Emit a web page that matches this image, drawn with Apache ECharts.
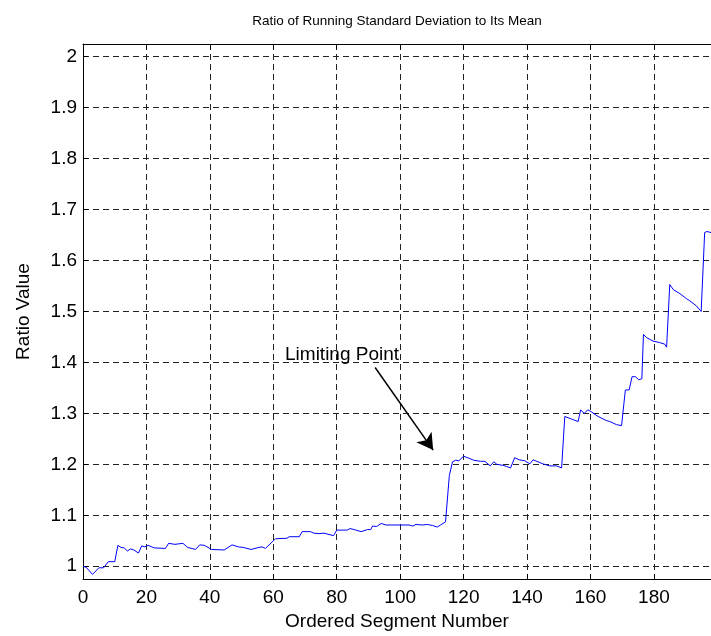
<!DOCTYPE html>
<html>
<head>
<meta charset="utf-8">
<script src="https://cdn.jsdelivr.net/npm/echarts@6/dist/echarts.min.js"></script>
<style>
html,body{margin:0;padding:0;background:#fff;}
#chart{width:711px;height:636px;}
</style>
</head>
<body>
<div id="chart"></div>
<script>
const titleText = 'Ratio of Running Standard Deviation to Its Mean';
const xName = 'Ordered Segment Number';
const yName = 'Ratio Value';
const annotationText = 'Limiting Point';
const xTicks = [0, 20, 40, 60, 80, 100, 120, 140, 160, 180];
const yTicks = [1, 1.1, 1.2, 1.3, 1.4, 1.5, 1.6, 1.7, 1.8, 1.9, 2];
const segX = [0,1,3,5,6.5,7,8,10,11,12,13,14,15,16,17.5,18.5,19.5,20.5,22.5,26,27,29,31.5,33,35.5,36.8,38.3,40.5,44.5,47,49,50.5,53,55.5,56.5,57.5,60.7,64.3,65,68.2,69.1,71.7,72.8,74.4,75,76,76.5,79,80,83.3,84.2,85.5,87.7,89.7,90.7,91.3,92.6,94,95.5,102.8,103.9,105,107,108.6,110.2,111.7,112.7,114.3,115.5,116.5,117.5,118.5,120,121.7,123.2,123.8,125.3,126.7,128.4,129.5,130.5,132.5,133.5,134.8,136.1,137.5,139.3,140.9,141.9,145,147.2,149.3,150.9,151.9,154,156.1,156.9,158,159.2,160.3,162.4,165,166.1,168.2,169.8,171,172.2,173.1,174.2,175.2,176.2,176.7,177.6,179.7,181.8,183.4,184,185,186.1,188.2,190.3,191.3,193.4,194.9,196,196.7,198];
const ratioY = [1.000,0.998,0.984,0.997,0.997,0.995,1.009,1.009,1.041,1.037,1.036,1.030,1.034,1.032,1.026,1.040,1.038,1.041,1.036,1.035,1.045,1.043,1.045,1.037,1.033,1.042,1.041,1.033,1.032,1.042,1.038,1.037,1.033,1.037,1.038,1.035,1.054,1.055,1.058,1.058,1.068,1.068,1.065,1.064,1.063,1.065,1.062,1.060,1.071,1.071,1.074,1.072,1.068,1.072,1.072,1.079,1.078,1.084,1.081,1.081,1.079,1.082,1.081,1.082,1.080,1.077,1.081,1.087,1.178,1.205,1.208,1.207,1.216,1.212,1.208,1.211,1.206,1.206,1.197,1.205,1.200,1.198,1.196,1.193,1.213,1.209,1.207,1.201,1.209,1.201,1.197,1.197,1.193,1.294,1.289,1.284,1.307,1.300,1.307,1.303,1.294,1.286,1.284,1.278,1.276,1.346,1.346,1.372,1.372,1.366,1.368,1.455,1.449,1.442,1.439,1.436,1.430,1.553,1.543,1.535,1.525,1.521,1.511,1.500,1.655,1.657,1.655];
const arrowFrom = [92.1, 1.390];
const arrowTo = [110.4, 1.228];
const labelAt = [63.7, 1.415];

const FONT = '"Liberation Sans", Arial, sans-serif';
const fsLabel = 19;
const fsTitle = 13.5;

const data = segX.map((x, i) => [x, ratioY[i]]);
const gridLine = {show: true, lineStyle: {color: '#222', width: 1, type: [6, 4]}};

const chart = echarts.init(document.getElementById('chart'), null, {renderer: 'canvas'});
chart.setOption({
  animation: false,
  backgroundColor: '#fff',
  textStyle: {fontFamily: FONT},
  title: {
    text: titleText, left: 392, top: 9, textAlign: 'center',
    textStyle: {fontFamily: FONT, fontSize: fsTitle, fontWeight: 'normal', color: '#000'}
  },
  grid: {left: 83, right: 0, top: 44, bottom: 56, containLabel: false},
  xAxis: [{
    type: 'value', min: 0, max: 198, position: 'bottom',
    name: xName, nameLocation: 'middle', nameGap: 33,
    nameTextStyle: {fontFamily: FONT, fontSize: fsLabel, color: '#000'},
    axisLine: {show: true, onZero: false, lineStyle: {color: '#000', width: 1}},
    axisTick: {show: true, inside: true, length: 5, customValues: xTicks, lineStyle: {color: '#000'}},
    axisLabel: {show: true, customValues: xTicks, margin: 9, fontFamily: FONT, fontSize: fsLabel, color: '#000'},
    splitLine: gridLine
  }, {
    type: 'value', min: 0, max: 198, position: 'top',
    axisLine: {show: true, onZero: false, lineStyle: {color: '#000', width: 1}},
    axisTick: {show: true, inside: true, length: 5, customValues: xTicks, lineStyle: {color: '#000'}},
    axisLabel: {show: false},
    splitLine: {show: false}
  }],
  yAxis: [{
    type: 'value', min: 0.975, max: 2.025,
    name: yName, nameLocation: 'middle', nameGap: 50, nameRotate: 90,
    nameTextStyle: {fontFamily: FONT, fontSize: fsLabel, color: '#000'},
    axisLine: {show: true, onZero: false, lineStyle: {color: '#000', width: 1}},
    axisTick: {show: true, inside: true, length: 5, customValues: yTicks, lineStyle: {color: '#000'}},
    axisLabel: {show: true, customValues: yTicks, margin: 6, fontFamily: FONT, fontSize: fsLabel, color: '#000',
      formatter: v => String(Math.round(v * 10) / 10)},
    splitLine: gridLine
  }],
  series: [{
    type: 'line', data: data, xAxisIndex: 0, yAxisIndex: 0,
    showSymbol: false, symbol: 'none',
    lineStyle: {color: '#0000ff', width: 1},
    markLine: {
      silent: true, symbol: ['none', 'arrow'], symbolSize: [14, 16],
      lineStyle: {color: '#000', width: 1.5, type: 'solid'},
      label: {show: false},
      data: [[{coord: arrowFrom}, {coord: arrowTo}]]
    },
    markPoint: {
      silent: true, symbol: 'circle', symbolSize: 0,
      itemStyle: {color: 'rgba(0,0,0,0)'},
      label: {show: true, position: 'right', distance: 0, formatter: annotationText,
        fontFamily: FONT, fontSize: fsLabel, color: '#000'},
      data: [{coord: labelAt}]
    }
  }]
});
</script>
</body>
</html>
